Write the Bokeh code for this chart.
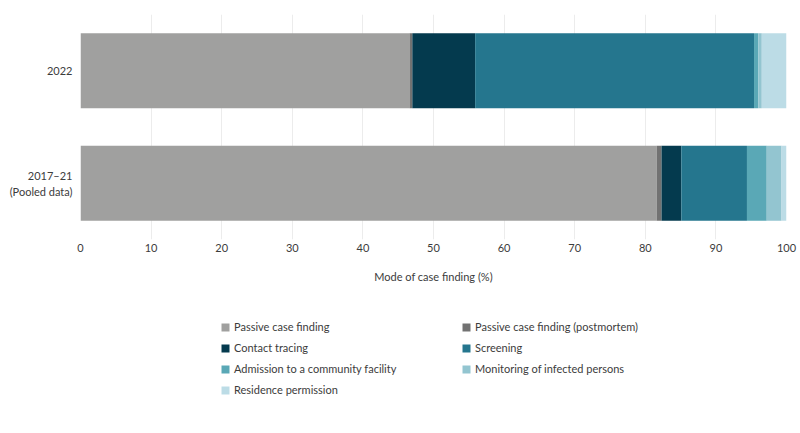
from bokeh.plotting import figure
from bokeh.layouts import column
from bokeh.models import ColumnDataSource, FactorRange, Range1d, Legend, LegendItem, FixedTicker
from bokeh.embed import file_html
from bokeh.resources import INLINE

periods = ["2017–21\n(Pooled data)", "2022"]
series = ["Passive case finding", "Passive case finding (postmortem)", "Contact tracing",
          "Screening", "Admission to a community facility", "Monitoring of infected persons",
          "Residence permission"]
passive = [81.6, 46.6]
postmortem = [0.7, 0.4]
contact = [2.8, 8.9]
screening = [9.3, 39.5]
admission = [2.8, 0.6]
monitoring = [2.1, 0.5]
residence = [0.7, 3.5]
x_ticks = [0, 10, 20, 30, 40, 50, 60, 70, 80, 90, 100]

colors = ["#a0a09f", "#727272", "#043a4e", "#25768e", "#5aa8b6", "#93c5d0", "#bcdce6"]
keys = ["passive", "postmortem", "contact", "screening", "admission", "monitoring", "residence"]

source = ColumnDataSource(dict(period=periods, passive=passive, postmortem=postmortem,
                               contact=contact, screening=screening, admission=admission,
                               monitoring=monitoring, residence=residence))

TXT = "#3c3c3c"
FONT = "Lato"

p = figure(width=800, height=300, y_range=FactorRange(factors=periods, range_padding=0),
           x_range=Range1d(0, 100), output_backend="svg", toolbar_location=None,
           min_border_left=80, min_border_right=14, min_border_top=14, min_border_bottom=61)
p.outline_line_color = None

rs = p.hbar_stack(keys, y="period", height=0.667, color=colors, line_color=None, source=source)

p.xaxis.ticker = FixedTicker(ticks=x_ticks)
p.xaxis.axis_line_color = None
p.xaxis.major_tick_line_color = None
p.xaxis.minor_tick_line_color = None
p.xaxis.major_tick_out = 0
p.xaxis.major_label_standoff = 4
p.xaxis.major_label_text_font = FONT
p.xaxis.major_label_text_font_size = "11px"
p.xaxis.major_label_text_color = TXT
p.xaxis.axis_label = "Mode of case finding (%)"
p.xaxis.axis_label_text_font = FONT
p.xaxis.axis_label_text_font_style = "normal"
p.xaxis.axis_label_text_font_size = "11px"
p.xaxis.axis_label_text_color = TXT
p.xaxis.axis_label_standoff = 15

p.yaxis.axis_line_color = None
p.yaxis.major_tick_line_color = None
p.yaxis.minor_tick_line_color = None
p.yaxis.major_tick_out = 0
p.yaxis.major_label_standoff = 8
p.yaxis.major_label_text_font = FONT
p.yaxis.major_label_text_font_size = "11px"
p.yaxis.major_label_text_color = TXT

p.ygrid.grid_line_color = None
p.xgrid.grid_line_color = "#ececec"
p.xgrid.grid_line_width = 1

# legend panel: same stacked bars, hidden, used only for the legend swatches
lg = figure(width=800, height=133, x_range=Range1d(0, 100),
            y_range=FactorRange(factors=periods, range_padding=0),
            output_backend="svg", toolbar_location=None,
            min_border_left=0, min_border_right=0, min_border_top=0, min_border_bottom=0)
lg.outline_line_color = None
lg.axis.visible = False
lg.grid.visible = False
lrs = lg.hbar_stack(keys, y="period", height=0.667, color=colors, line_color=None, source=source)
for r in lrs:
    r.visible = False
order = [0, 2, 4, 6, 1, 3, 5]  # column-major fill -> row-major look
items = [LegendItem(label=series[i], renderers=[lrs[i]]) for i in order]
legend = Legend(items=items, ncols=2, location=(140, 37),
                border_line_color=None, background_fill_alpha=0, padding=0, margin=0,
                glyph_width=10, glyph_height=10, label_standoff=4, label_width=219,
                label_height=11, spacing=8,
                label_text_font=FONT, label_text_font_size="11px", label_text_color=TXT)
lg.add_layout(legend, "center")

open("out.html", "w").write(file_html(column(p, lg, spacing=0), INLINE))
